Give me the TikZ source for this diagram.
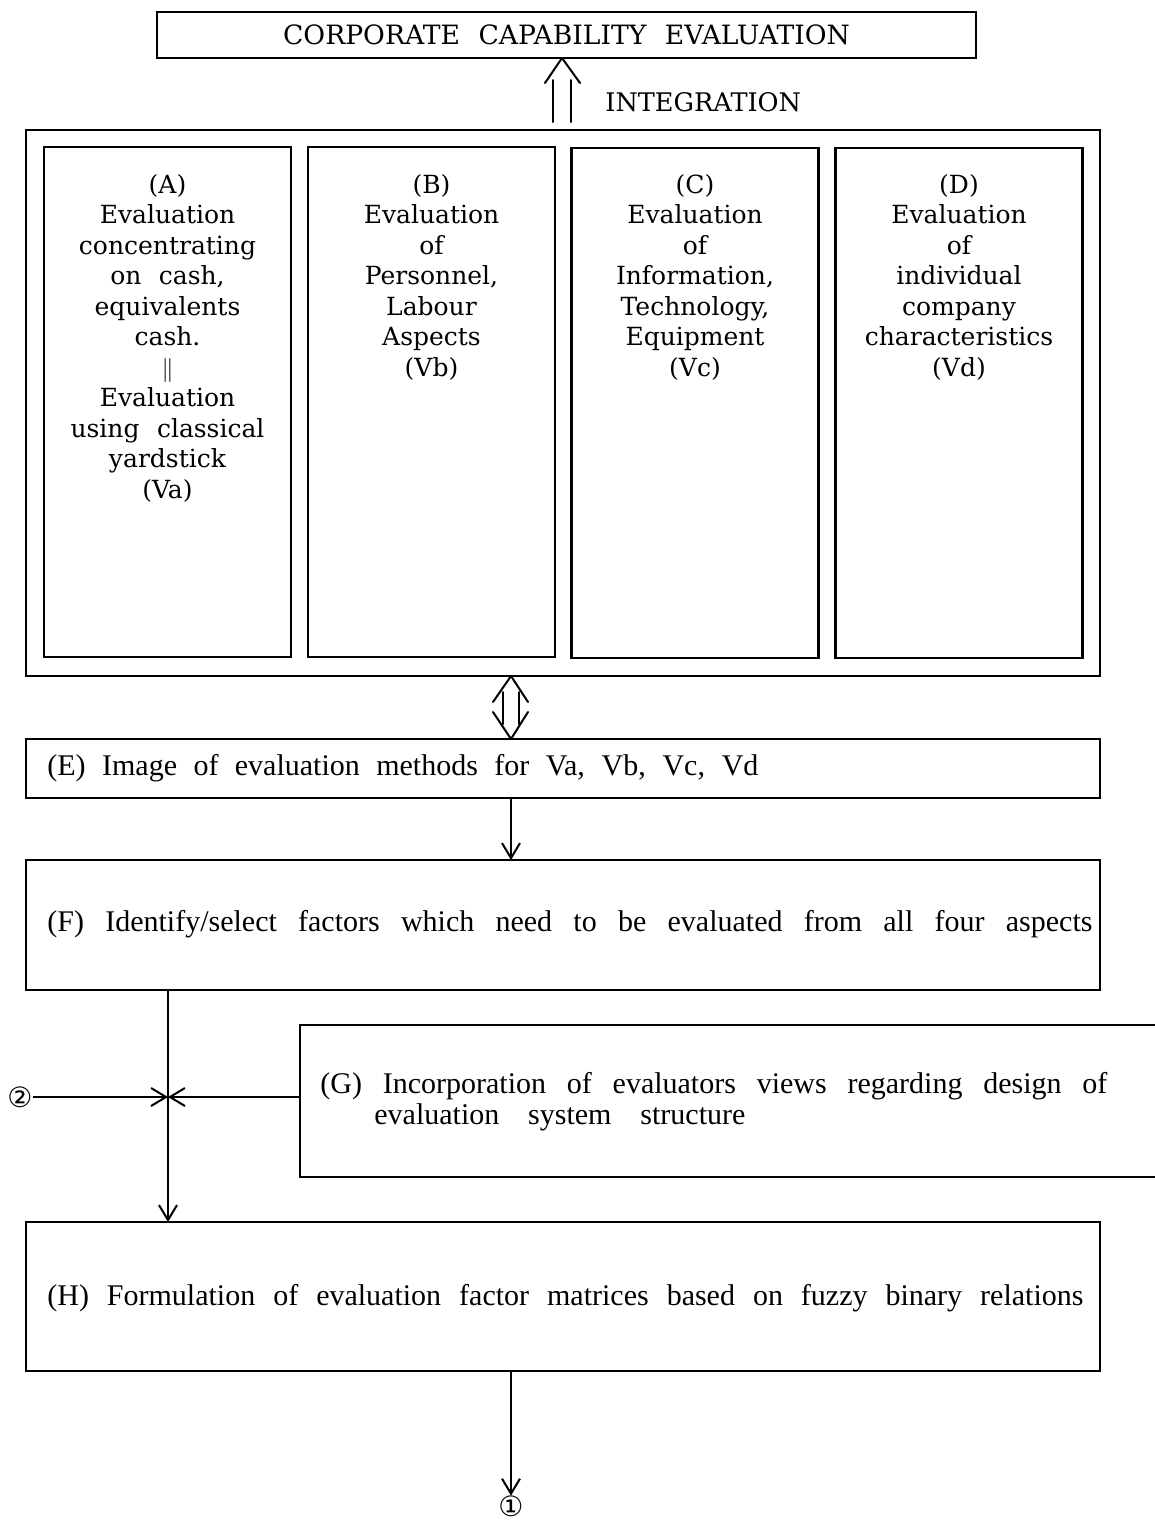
\documentclass[tikz,border=0pt]{standalone}
\usepackage{fontspec}
\setmainfont{DejaVu Serif}
\newfontfamily\headfont[WordSpace=1.6]{DejaVu Serif}
\newfontfamily\titlefont[WordSpace=2.2]{DejaVu Serif}
\newfontfamily\flowfont[WordSpace=2.4]{Liberation Serif}
\newfontfamily\symfont{DejaVu Sans}
\usetikzlibrary{arrows.meta,calc}

% a line of flow text spread to a fixed width
\newcommand{\spreadline}[2]{\makebox[#1][s]{#2}}

\tikzset{
  box/.style={draw, line width=1.2pt, inner sep=0pt, outer sep=0pt},
  colbox/.style={box, minimum width=123.5pt, minimum height=255pt},
  coltext/.style={anchor=north, align=center, inner sep=0pt,
    font=\headfont\fontsize{12.5}{15.25}\selectfont},
  flowtext/.style={anchor=west, inner sep=0pt, align=left,
    font=\flowfont\fontsize{15}{15.5}\selectfont},
  arr/.style={line width=1pt, -{Straight Barb[length=7.5pt,width=9pt,line width=1pt]}},
  shaft/.style={line width=1pt, line cap=round, line join=round},
  circnum/.style={inner sep=0pt, text height=10pt, text depth=0pt,
    font=\symfont\fontsize{14}{14}\selectfont}
}

\begin{document}
\begin{tikzpicture}[x=0.5pt, y=-0.5pt]
\useasboundingbox (0,0) rectangle (1155,1521);

% title box
\node[box, minimum width=409.5pt, minimum height=23pt] (top) at (566.5,35)
  {\titlefont\fontsize{13.3}{14}\selectfont CORPORATE CAPABILITY EVALUATION};

% outer frame holding the four aspect columns
\node[box, minimum width=537pt, minimum height=273pt] (big) at (563,403) {};

\node[colbox] (A) at (167.5,402) {};
\node[colbox] (B) at (431.5,402) {};
\node[colbox] (C) at (695,403) {};
\node[colbox] (D) at (959,403) {};

\node[coltext] (At) at (167.5,174) {(A)\\Evaluation\\concentrating\\on cash,\\equivalents\\cash.\\$\|$\\Evaluation\\using classical\\yardstick\\(Va)};
\node[coltext] (Bt) at (431.5,174) {(B)\\Evaluation\\of\\Personnel,\\Labour\\Aspects\\(Vb)};
\node[coltext] (Ct) at (695,174) {(C)\\Evaluation\\of\\Information,\\Technology,\\Equipment\\(Vc)};
\node[coltext] (Dt) at (959,174) {(D)\\Evaluation\\of\\individual\\company\\characteristics\\(Vd)};

% integration arrow into the title box
\draw[shaft] (553,80) -- (553,122);
\draw[shaft] (571,80) -- (571,122);
\draw[shaft] (545,83) -- (top.south -| 562,0) -- (580,83);
\node[anchor=west, inner sep=0pt, font=\headfont\fontsize{12.8}{14}\selectfont] (integ) at (605,102) {INTEGRATION};

% flow boxes
\node[box, minimum width=537pt, minimum height=29.5pt] (E) at (563,768.5) {};
\node[flowtext] (Et) at (47,768) {\spreadline{355.5pt}{(E) Image of evaluation methods for Va, Vb, Vc, Vd}};

\node[box, minimum width=537pt, minimum height=65pt] (F) at (563,925) {};
\node[flowtext] (Ft) at (47,924) {\spreadline{522.5pt}{(F) Identify/select factors which need to be evaluated from all four aspects}};

\node[inner sep=0pt, outer sep=0pt, minimum width=427.5pt, minimum height=76pt] (G) at (727.5,1101) {};
\draw[line width=1.2pt] (G.north east) -- (G.north west) -- (G.south west) -- (G.south east);
\node[flowtext] (Gt) at (320,1102) {\spreadline{393.5pt}{(G) Incorporation of evaluators views regarding design of}\\\hspace*{27pt}\spreadline{185.5pt}{evaluation system structure}};

\node[box, minimum width=537pt, minimum height=74.5pt] (H) at (563,1296.5) {};
\node[flowtext] (Ht) at (47,1298) {\spreadline{518pt}{(H) Formulation of evaluation factor matrices based on fuzzy binary relations}};

% two-way arrow between the columns and E
\coordinate (dtop) at (511,676);
\coordinate (dbot) at (511,739);
\draw[shaft] (503,692) -- (503,724);
\draw[shaft] (519,692) -- (519,724);
\draw[shaft] (493,702) -- (big.south -| dtop) -- (528,702);
\draw[shaft] (493,712) -- (E.north -| dbot) -- (528,712);

% E -> F
\draw[arr] ([xshift=-26pt]E.south) -- ([xshift=-26pt]F.north);

% merging point of F, G and input 2
\coordinate (X) at (168,1097);
\node[circnum] (c2) at (20,1097) {②};
\draw[arr] (c2.east) -- (X);
\draw[arr] (G.west |- X) -- (X);
\draw[line width=1pt] (F.south -| X) -- (X);
\draw[arr] (X) -- (H.north -| X);

% H -> output 1
\node[circnum] (c1) at (511,1506) {①};
\draw[arr] ([xshift=-26pt]H.south) -- (c1.north);
\end{tikzpicture}
\end{document}
